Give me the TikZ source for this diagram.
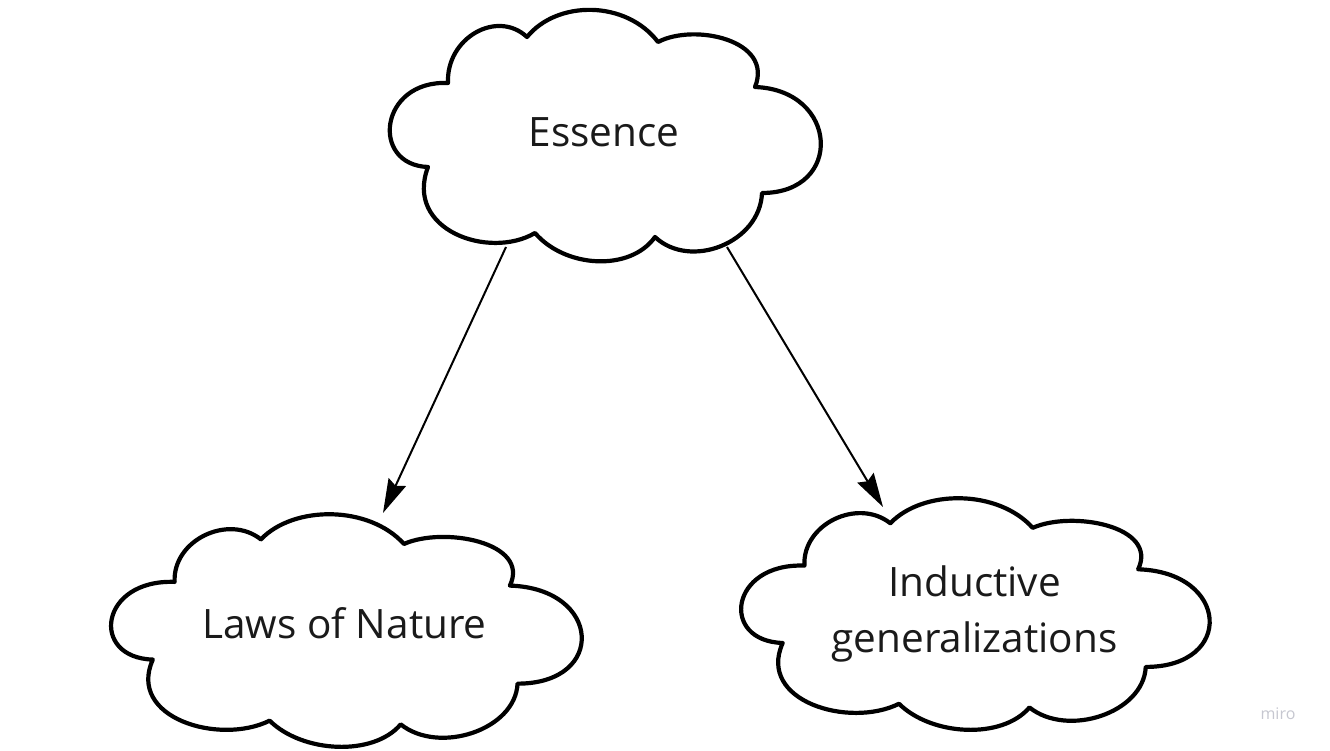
\documentclass[tikz,border=0pt]{standalone}
\usepackage{fontspec}
\setmainfont{Open Sans}
\usetikzlibrary{arrows.meta}
\definecolor{inkc}{HTML}{1A1A1A}
\definecolor{miroc}{HTML}{C6C7D0}
\tikzset{
  cloudline/.style={draw=black, line width=4.2pt, fill=white, line join=round},
  lbl/.style={text=inkc, font=\fontsize{40.5}{56}\selectfont, inner sep=0pt, align=center},
  arr/.style={draw=black, line width=2pt, -{Stealth[length=34pt, width=19pt, inset=4pt]}},
  mcloud/.pic={
    \path[cloudline] (-77,98) .. controls (-47,135) and (22,135) .. (54,93)
      .. controls (90,112) and (170,95) .. (151,48)
      .. controls (235,45) and (240,-58) .. (158,-58)
      .. controls (156,-108) and (86,-135) .. (51,-102)
      .. controls (26,-137) and (-39,-133) .. (-69,-98)
      .. controls (-115,-125) and (-200,-95) .. (-176,-32)
      .. controls (-234,-30) and (-225,55) .. (-156,52)
      .. controls (-158,97) and (-107,126) .. cycle;
  }
}
\begin{document}
\begin{tikzpicture}[x=1pt, y=-1pt]
\useasboundingbox[fill=white] (0,0) rectangle (1330,751);
% clouds
\pic[xscale=1, yscale=-1] at (604,135) {mcloud};
\pic[xscale=1.092, yscale=-0.925] at (345,630) {mcloud};
\pic[xscale=1.087, yscale=-0.921] at (974,613.5) {mcloud};
% labels
\node[lbl, anchor=base] (ess) at (604,147) {Essence};
\node[lbl, anchor=base] (laws) at (344.5,638) {Laws of Nature};
\node[lbl] (ind) at (974.5,614) {Inductive\\generalizations};
\node[text=miroc, font=\fontsize{16}{19}\selectfont, inner sep=0pt, anchor=base] (miro) at (1278,719) {miro};
% connector end points
\coordinate (essL) at (506,247);
\coordinate (essR) at (727,247);
\coordinate (lawsT) at (383,513);
\coordinate (indT) at (883,507);
% connectors
\draw[arr] (essL) -- (lawsT);
\draw[arr] (essR) -- (indT);
\end{tikzpicture}
\end{document}
